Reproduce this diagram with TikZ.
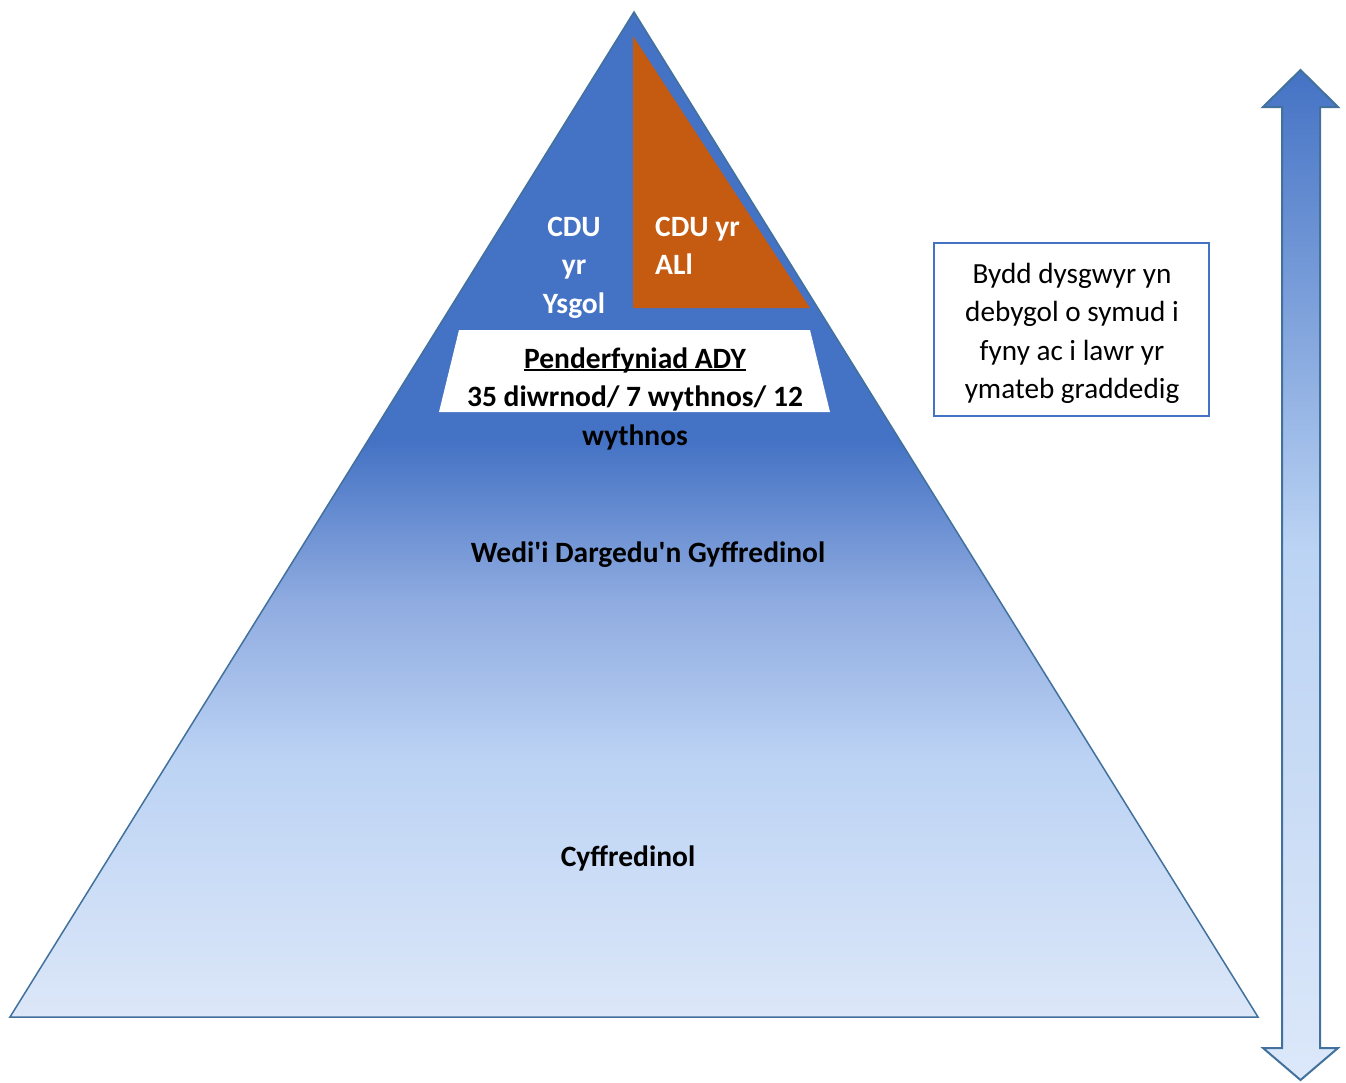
\documentclass[tikz,border=0pt]{standalone}
\usepackage{fontspec}
\setmainfont{Carlito}
\definecolor{accent}{HTML}{4472C4}
\definecolor{edgeblue}{HTML}{41719C}
\definecolor{orangefill}{HTML}{C55A11}
\definecolor{pc1}{HTML}{DCE7F8}
\definecolor{pc2}{HTML}{BCD3F4}
\definecolor{pc3}{HTML}{8FABE0}
\definecolor{ac1}{HTML}{DCE8FA}
\definecolor{ac2}{HTML}{CADCF5}
\definecolor{ac3}{HTML}{BCD4F4}
\definecolor{ac4}{HTML}{7B9FDA}
\pgfdeclareverticalshading{pyrshade}{100bp}{color(0bp)=(pc1); color(25bp)=(pc1); color(37.8bp)=(pc2); color(45.7bp)=(pc3); color(53.7bp)=(accent); color(100bp)=(accent)}
\pgfdeclareverticalshading{arrshade}{100bp}{color(0bp)=(ac1); color(25bp)=(ac1); color(38.9bp)=(ac2); color(51.2bp)=(ac3); color(63.6bp)=(ac4); color(75bp)=(accent); color(100bp)=(accent)}
\newcommand{\myul}[1]{\setbox0\hbox{#1}\rlap{\rule[-3pt]{\wd0}{1.8pt}}\box0}
\tikzset{
  lbl/.style={anchor=base, inner sep=0pt, font=\fontsize{29.5}{35}\selectfont\bfseries},
  wlbl/.style={lbl, text=white},
  rlbl/.style={anchor=base, inner sep=0pt, font=\fontsize{29.2}{35}\selectfont},
}
\begin{document}
\begin{tikzpicture}[x=1pt,y=-1pt]
\useasboundingbox (0,0) rectangle (1346,1082);
% pyramid
\path[draw=edgeblue, line width=1.5pt, shading=pyrshade] (634,12) -- (1258,1017) -- (10,1017) -- cycle;
% orange triangle
\fill[orangefill] (633,36) -- (633,308) -- (810,308) -- cycle;
% white trapezoid
\fill[white] (459,330) -- (810,330) -- (830,412) -- (439,412) -- cycle;
% arrow
\path[draw=edgeblue, line width=2pt, shading=arrshade, line join=miter]
  (1300.5,70) -- (1338,107) -- (1320,107) -- (1320,1048) -- (1338,1048) -- (1300.5,1080)
  -- (1263,1048) -- (1282,1048) -- (1282,107) -- (1263,107) -- cycle;
% text box
\node[draw=accent, line width=1.5pt, fill=white, minimum width=275pt, minimum height=173pt, inner sep=0pt] (box) at (1071.5,329.5) {};
\node[rlbl] (b1) at (1072,283) {Bydd dysgwyr yn};
\node[rlbl] (b2) at (1072,321.5) {debygol o symud i};
\node[rlbl] (b3) at (1072,360) {fyny ac i lawr yr};
\node[rlbl] (b4) at (1072,398.5) {ymateb graddedig};
% labels
\node[wlbl] (s1) at (574,236) {CDU};
\node[wlbl] (s2) at (574,274.5) {yr};
\node[wlbl] (s3) at (574,313) {Ysgol};
\node[wlbl, anchor=base west] (a1) at (655,236) {CDU yr};
\node[wlbl, anchor=base west] (a2) at (655,274.5) {ALl};
\node[lbl] (p1) at (635,368) {\myul{Penderfyniad ADY}};
\node[lbl] (p2) at (635,406.5) {35 diwrnod/ 7 wythnos/ 12};
\node[lbl] (p3) at (635,445) {wythnos};
\node[lbl] (t1) at (648,562) {Wedi\textquotesingle i Dargedu\textquotesingle n Gyffredinol};
\node[lbl] (c1) at (628,866) {Cyffredinol};
\end{tikzpicture}
\end{document}
